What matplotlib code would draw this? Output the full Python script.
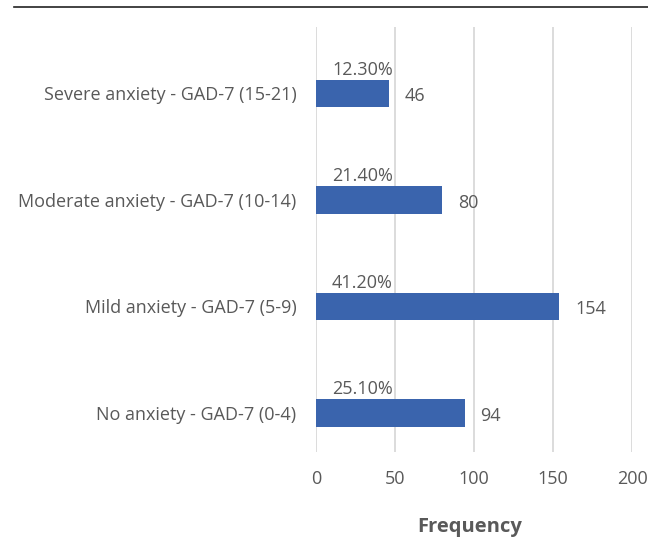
import matplotlib
matplotlib.use('Agg')
import matplotlib.pyplot as plt
from matplotlib.lines import Line2D

# Data (top to bottom as shown)
categories = ['Severe anxiety - GAD-7 (15-21)',
              'Moderate anxiety - GAD-7 (10-14)',
              'Mild anxiety - GAD-7 (5-9)',
              'No anxiety - GAD-7 (0-4)']
frequency = [46, 80, 154, 94]
percent_labels = ['12.30%', '21.40%', '41.20%', '25.10%']
x_ticks = [0, 50, 100, 150, 200]

plt.rcParams['font.family'] = ['Open Sans', 'DejaVu Sans']
text_color = '#595959'
bar_color = '#3A64AD'
fs = 13

fig = plt.figure(figsize=(6.48, 5.39), dpi=100)
ax = fig.add_axes([316 / 648, 1 - 452 / 539, 316 / 648, 425 / 539])

ypos = list(range(len(categories)))
bar_h = 0.255
ax.barh(ypos, frequency, height=bar_h, color=bar_color, zorder=3)

ax.set_xlim(0, 200)
ax.set_ylim(len(categories) - 1 + 0.366, -0.624)
ax.set_xticks(x_ticks)
ax.set_yticks(ypos)
ax.set_yticklabels(categories)
ax.tick_params(axis='both', length=0, labelsize=fs, colors=text_color)
ax.tick_params(axis='x', pad=13)
ax.tick_params(axis='y', pad=14)
for s in ax.spines.values():
    s.set_visible(False)
ax.grid(axis='x', color='#D9D9D9', linewidth=1.3, zorder=0)
ax.grid(axis='y', visible=False)

# Labels: percent above bar start, count to the right of bar end
for y, v, p in zip(ypos, frequency, percent_labels):
    ax.annotate(p, xy=(0, y - bar_h / 2), xytext=(16, 1), textcoords='offset pixels',
                ha='left', va='bottom', fontsize=fs, color=text_color)
    ax.annotate(str(v), xy=(v, y), xytext=(16, -3), textcoords='offset pixels',
                ha='left', va='center', fontsize=fs, color=text_color)

fig.text(470 / 648, 1 - 527 / 539, 'Frequency', ha='center', va='center',
         fontsize=14.5, fontweight='bold', color=text_color)

# Top rule
fig.add_artist(Line2D([14 / 648, 1], [1 - 7 / 539, 1 - 7 / 539],
                      transform=fig.transFigure, color='#222222', linewidth=1.2))

fig.savefig('out.png', dpi=100)
